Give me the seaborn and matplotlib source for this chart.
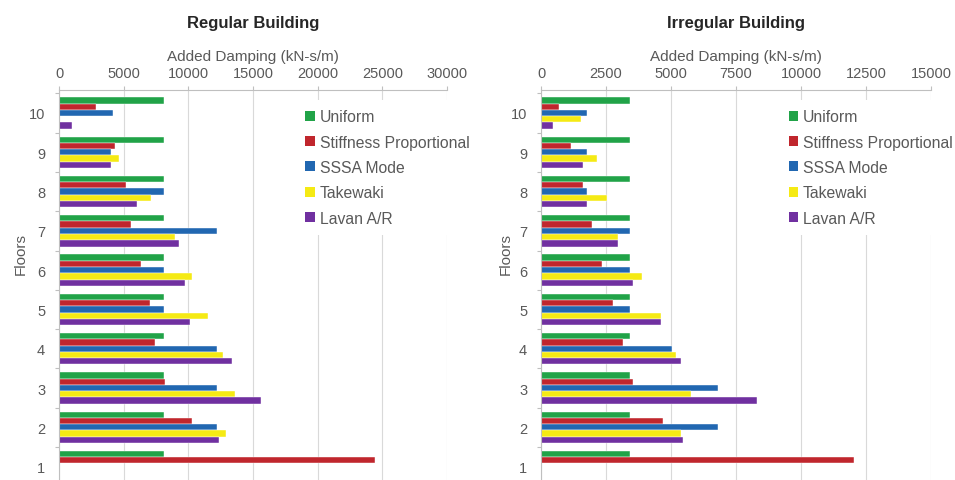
import numpy as np
import pandas as pd
import matplotlib
matplotlib.use("Agg")
import matplotlib.pyplot as plt
from matplotlib.patches import Patch
from matplotlib.ticker import FixedLocator
import seaborn as sns

# ---------------- data ----------------
floors = ["10", "9", "8", "7", "6", "5", "4", "3", "2", "1"]
methods = ["Uniform", "Stiffness Proportional", "SSSA Mode", "Takewaki", "Lavan A/R"]
colors = ["#21a348", "#c0262d", "#2167b1", "#f5ea14", "#7030a0"]
nan = np.nan

reg_uniform = [8150, 8150, 8150, 8150, 8150, 8150, 8150, 8150, 8150, 8150]
reg_stiff = [2850, 4300, 5150, 5600, 6350, 7050, 7400, 8200, 10250, 24400]
reg_sssa = [4150, 4050, 8150, 12250, 8150, 8150, 12250, 12250, 12250, nan]
reg_takewaki = [nan, 4650, 7150, 9000, 10250, 11500, 12650, 13600, 12950, nan]
reg_lavan = [1000, 4050, 6050, 9250, 9750, 10150, 13400, 15600, 12400, nan]

irr_uniform = [3425, 3425, 3425, 3425, 3425, 3425, 3425, 3425, 3425, 3425]
irr_stiff = [700, 1150, 1600, 1950, 2350, 2750, 3150, 3550, 4700, 12050]
irr_sssa = [1750, 1750, 1750, 3425, 3425, 3425, 5050, 6800, 6800, nan]
irr_takewaki = [1550, 2150, 2550, 2950, 3900, 4600, 5200, 5750, 5400, nan]
irr_lavan = [450, 1600, 1750, 2950, 3550, 4600, 5400, 8300, 5450, nan]

reg_ticks = [0, 5000, 10000, 15000, 20000, 25000, 30000]
irr_ticks = [0, 2500, 5000, 7500, 10000, 12500, 15000]

titles = ["Regular Building", "Irregular Building"]
xlabel = "Added Damping (kN-s/m)"
ylabel = "Floors"


def long_df(series_list):
    rows = []
    for m, vals in zip(methods, series_list):
        for f, v in zip(floors, vals):
            rows.append({"Floor": f, "Method": m, "Damping": v})
    return pd.DataFrame(rows).dropna()


df_reg = long_df([reg_uniform, reg_stiff, reg_sssa, reg_takewaki, reg_lavan])
df_irr = long_df([irr_uniform, irr_stiff, irr_sssa, irr_takewaki, irr_lavan])

# ---------------- style ----------------
sns.set_style("white")
plt.rcParams["font.family"] = ["Liberation Sans", "DejaVu Sans"]

W, H = 955, 481
fig = plt.figure(figsize=(W / 100, H / 100), dpi=100)

ax_top_px = 91
ax_h = (H - ax_top_px) / H
ax1 = fig.add_axes([59 / W, 0, 388 / W, ax_h])
ax2 = fig.add_axes([541 / W, 0, 390 / W, ax_h])

tick_col = "#595959"
grid_col = "#d9d9d9"
spine_col = "#bfbfbf"

for ax, df, ticks, title in [(ax1, df_reg, reg_ticks, titles[0]),
                             (ax2, df_irr, irr_ticks, titles[1])]:
    sns.barplot(data=df, x="Damping", y="Floor", hue="Method", orient="h",
                order=floors, hue_order=methods, palette=colors,
                saturation=1, width=0.8, edgecolor="white", linewidth=0.3,
                errorbar=None, legend=False, ax=ax)
    ax.set_xlim(ticks[0], ticks[-1])
    ax.set_ylim(9.34, -0.585)
    ax.set_xticks(ticks)
    ax.set_xticklabels([str(t) for t in ticks])
    ax.xaxis.tick_top()
    ax.xaxis.set_label_position("top")
    ax.tick_params(axis="x", which="major", top=True, bottom=False, direction="out",
                   length=3, width=0.8, color=spine_col, pad=4,
                   labelsize=10.5, labelcolor=tick_col)
    ax.tick_params(axis="y", which="major", left=False, length=0, pad=10,
                   labelsize=10.5, labelcolor=tick_col)
    ax.yaxis.set_minor_locator(FixedLocator(np.arange(-0.5, 10, 1.0)))
    ax.tick_params(axis="y", which="minor", left=True, direction="out",
                   length=3, width=0.8, color=spine_col)
    ax.grid(axis="x", color=grid_col, lw=0.8)
    ax.grid(axis="y", visible=False)
    ax.set_axisbelow(True)
    for s in ["right", "bottom"]:
        ax.spines[s].set_visible(False)
    for s in ["top", "left"]:
        ax.spines[s].set_color(spine_col)
        ax.spines[s].set_linewidth(0.8)

    ax.set_xlabel(xlabel, fontsize=11, color=tick_col)
    ax.set_ylabel(ylabel, fontsize=11, color=tick_col)
    ax.set_title(title, fontsize=12, fontweight="bold", color="#262626",
                 y=(H - 28) / (H - ax_top_px), pad=0)

    handles = [Patch(facecolor=c, edgecolor="none") for c in colors]
    ax.legend(handles, methods, loc="upper left",
              bbox_to_anchor=(0.611, 0.975), borderaxespad=0,
              fontsize=11.3, frameon=True, facecolor="white", edgecolor="none",
              framealpha=1, borderpad=0.6, handlelength=0.6, handleheight=0.6,
              handletextpad=0.3, labelspacing=0.66, labelcolor=tick_col)

ax1.xaxis.set_label_coords(0.5, (H - 61) / (H - ax_top_px))
ax2.xaxis.set_label_coords(0.5, (H - 61) / (H - ax_top_px))
ax1.yaxis.set_label_coords((28 - 59) / 388, (H - 254) / (H - ax_top_px))
ax2.yaxis.set_label_coords((513 - 541) / 390, (H - 254) / (H - ax_top_px))

fig.savefig("out.png", dpi=100)
